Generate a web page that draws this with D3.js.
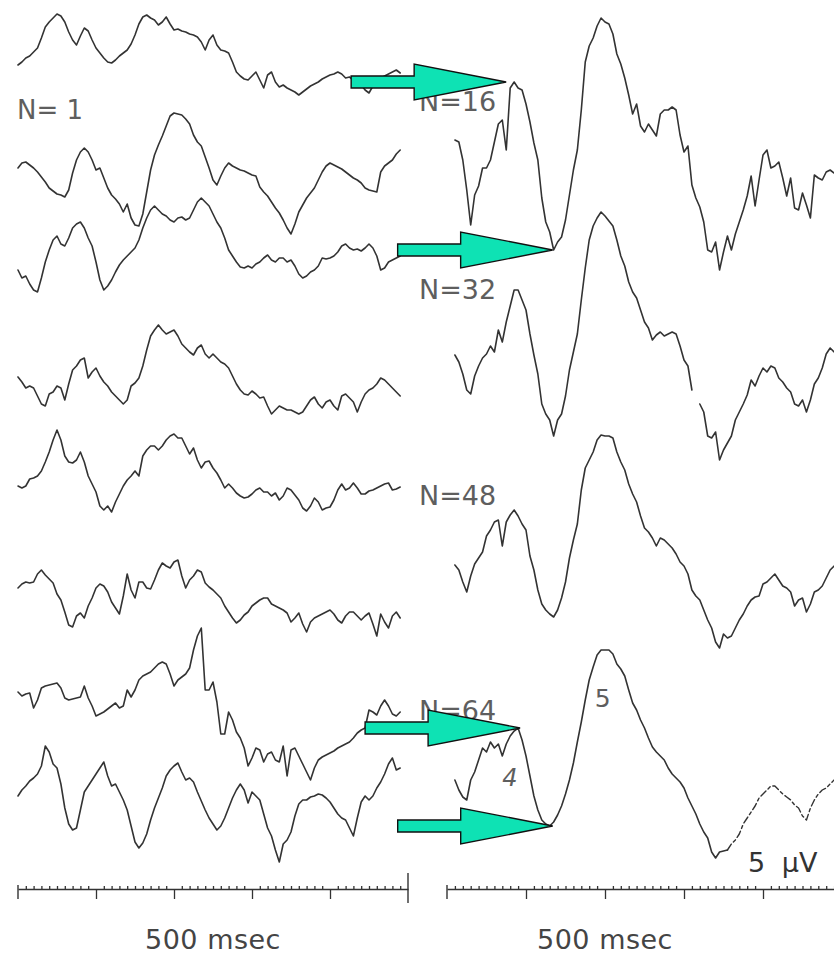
<!DOCTYPE html>
<html>
<head>
<meta charset="utf-8">
<script src="https://cdn.jsdelivr.net/npm/d3@7/dist/d3.min.js"></script>
<style>
  html, body { margin: 0; padding: 0; background: #fff; }
  svg { display: block; }
</style>
</head>
<body>
<script>
// ---- Single sweeps (µV), one sample every 5 ms starting at 0 ms ----
const sweep1 = [
  -0.5, -0.2, 0.2, 0.4, 0.8, 1.2, 2.2, 3.3, 3.8, 4.2,
  4.6, 4.4, 3.8, 2.8, 2.0, 1.5, 2.4, 3.2, 2.9, 2.0,
  1.2, 0.7, 0.2, -0.2, -0.3, 0.0, 0.4, 0.7, 1.0, 1.6,
  2.5, 3.6, 4.3, 4.5, 4.2, 4.0, 3.5, 3.8, 4.3, 3.6,
  3.0, 3.1, 2.9, 2.8, 2.6, 2.5, 2.3, 1.8, 1.0, 2.0,
  2.5, 1.5, 1.0, 0.9, 0.7, -0.2, -1.2, -1.6, -1.9, -2.0,
  -1.6, -1.2, -2.0, -2.8, -1.5, -1.2, -2.2, -2.7, -2.5, -2.8,
  -3.0, -3.2, -3.5, -3.2, -2.9, -2.6, -2.4, -2.2, -1.9, -1.7,
  -1.5, -1.4, -1.2, -1.4, -1.8, -1.7, -2.0, -2.2, -2.5, -3.0,
  -3.3, -2.6, -2.0, -1.8, -1.6, -1.4, -1.2, -1.0, -1.3
];
const sweep2 = [
  0.2, 0.7, 0.8, 0.5, 0.2, -0.2, -0.7, -1.2, -1.8, -2.1,
  -2.4, -2.5, -2.7, -2.0, -0.3, 1.0, 1.8, 2.2, 1.8, 1.0,
  0.0, 0.2, -0.8, -1.8, -2.5, -2.9, -3.4, -4.2, -3.4, -4.8,
  -5.5, -5.6, -4.4, -2.2, 0.0, 1.5, 2.5, 3.4, 4.4, 5.4,
  5.7, 5.6, 5.5, 5.1, 4.6, 3.5, 2.8, 2.4, 1.3, 0.2,
  -1.0, -1.5, -0.6, 0.2, 0.7, 0.4, 0.2, 0.0, -0.1, -0.3,
  -0.5, -0.6, -1.7, -2.2, -2.6, -3.2, -3.8, -4.3, -5.0, -5.8,
  -6.4, -5.4, -4.2, -3.5, -2.8, -2.3, -1.8, -1.0, -0.2, 0.4,
  0.7, 0.5, 0.3, 0.1, -0.2, -0.5, -0.8, -1.0, -1.3, -1.8,
  -2.0, -2.1, -2.2, -0.2, 0.4, 0.7, 1.0, 1.6, 2.0
];
const sweep3 = [
  -2.0, -2.8, -2.6, -3.4, -4.0, -4.2, -2.8, -1.2, 0.0, 1.0,
  1.4, 0.6, 0.4, 1.2, 2.2, 2.6, 2.8, 2.2, 1.2, 0.4,
  -1.2, -3.0, -4.0, -3.6, -3.0, -2.2, -1.5, -1.0, -0.6, -0.2,
  0.2, 1.0, 2.2, 3.2, 4.0, 4.4, 4.0, 3.6, 3.4, 3.0,
  2.8, 3.2, 3.3, 3.0, 3.2, 4.0, 4.8, 5.2, 4.8, 4.4,
  3.6, 2.8, 2.2, 1.2, 0.0, -0.6, -1.2, -1.7, -1.8, -1.6,
  -1.8, -1.4, -1.2, -0.8, -0.5, -1.0, -1.2, -0.8, -0.8, -1.2,
  -1.0, -1.6, -2.4, -2.8, -2.6, -2.2, -2.0, -1.6, -0.8, -0.9,
  -0.8, -0.6, -0.2, 0.4, 0.6, 0.2, 0.0, 0.1, -0.1, 0.2,
  0.6, 0.2, -0.6, -2.0, -1.8, -1.2, -1.0, -0.8, -0.6
];
const sweep4 = [
  0.3, -0.2, -0.8, -0.6, -0.8, -1.6, -2.4, -2.6, -1.4, -1.2,
  -0.6, -0.8, -2.0, -0.4, 1.0, 1.4, 2.0, 2.2, 0.2, 0.8,
  1.2, 0.4, -0.2, -0.6, -1.2, -1.6, -2.0, -2.4, -2.0, -0.6,
  -0.3, 0.2, 1.4, 3.0, 4.4, 5.0, 5.5, 5.0, 4.6, 4.8,
  5.0, 4.4, 3.6, 3.2, 2.8, 2.5, 3.2, 3.5, 2.6, 2.2,
  2.6, 2.2, 1.8, 1.6, 1.2, 0.4, -0.4, -1.0, -1.4, -1.5,
  -1.1, -1.4, -1.8, -1.7, -2.6, -3.4, -3.0, -2.6, -2.8, -3.0,
  -3.0, -3.2, -3.4, -3.2, -2.6, -2.0, -1.7, -2.4, -2.8, -2.2,
  -2.0, -2.6, -3.0, -1.6, -1.4, -1.8, -2.2, -3.2, -2.2, -1.4,
  -1.0, -0.8, -0.4, 0.2, 0.0, -0.4, -0.8, -1.2, -1.6
];
const sweep5 = [
  -0.6, -0.8, -0.6, 0.1, 0.2, 0.4, 0.9, 1.8, 2.8, 4.0,
  5.0, 4.0, 2.4, 1.8, 1.7, 2.0, 2.8, 1.8, 0.4, -0.4,
  -1.2, -2.6, -3.0, -2.6, -3.2, -2.2, -1.4, -0.6, 0.0, 0.4,
  0.9, 0.4, 2.4, 3.0, 3.4, 3.4, 3.0, 3.4, 4.0, 4.4,
  4.6, 4.2, 4.2, 3.4, 2.6, 3.2, 2.0, 1.2, 1.8, 1.9,
  1.2, 0.7, 0.0, -0.8, -0.4, -0.8, -1.3, -1.6, -1.8, -1.7,
  -1.4, -1.0, -0.8, -1.2, -1.2, -1.6, -1.3, -2.0, -1.6, -0.8,
  -1.0, -1.5, -2.0, -2.8, -3.1, -2.6, -1.8, -2.2, -3.0, -2.8,
  -2.7, -2.0, -1.0, -0.4, -1.0, -0.8, -0.3, -0.8, -1.4, -1.4,
  -1.1, -1.0, -0.8, -0.6, -0.4, -0.3, -1.0, -0.9, -0.7
];
const sweep6 = [
  1.2, 1.6, 1.8, 1.7, 1.8, 2.6, 3.0, 2.5, 2.1, 1.7,
  0.6, 0.0, -1.2, -2.5, -2.7, -1.6, -1.3, -1.8, -0.6, 0.2,
  1.2, 1.6, 1.4, 0.8, -0.2, -0.8, -1.4, 0.4, 2.6, 1.0,
  0.2, 1.8, 1.8, 1.2, 1.1, 2.0, 3.0, 3.7, 3.4, 3.2,
  3.8, 4.0, 2.4, 1.2, 2.0, 2.4, 3.0, 2.8, 1.7, 1.3,
  1.0, 0.6, 0.2, -0.6, -1.2, -1.8, -2.3, -2.0, -1.5, -1.2,
  -0.6, -0.3, 0.0, 0.2, 0.2, -0.4, -0.6, -0.8, -1.0, -1.3,
  -2.2, -1.8, -1.3, -2.4, -3.2, -2.2, -1.8, -1.6, -1.4, -1.2,
  -1.0, -1.4, -2.0, -2.3, -1.6, -1.2, -1.2, -1.6, -2.0, -1.6,
  -1.3, -2.4, -3.6, -1.4, -2.2, -2.8, -1.6, -1.2, -1.8
];
const sweep7 = [
  0.8, 0.4, 0.6, 0.7, -0.8, 0.0, 1.2, 1.4, 1.5, 1.6,
  1.7, 1.2, 0.2, 0.0, 0.1, 0.2, 0.3, 1.4, 0.2, -0.6,
  -1.6, -1.4, -1.2, -0.9, -0.6, -0.3, -0.8, -0.6, 1.0, 0.3,
  1.0, 2.0, 2.4, 2.6, 2.8, 3.2, 3.6, 3.8, 3.6, 2.6,
  1.4, 2.0, 2.3, 2.6, 3.2, 5.0, 6.4, 7.2, 1.0, 1.0,
  1.8, -0.2, -3.4, -3.4, -1.2, -2.0, -3.2, -3.8, -4.8, -6.6,
  -5.8, -4.8, -5.0, -6.2, -5.4, -5.2, -6.0, -6.2, -4.6, -7.6,
  -5.0, -4.8, -5.6, -6.4, -7.2, -8.0, -6.8, -6.0, -5.7, -5.5,
  -5.3, -5.1, -4.8, -4.6, -4.4, -4.2, -3.8, -3.3, -3.0, -2.8,
  -1.0, -1.2, -1.5, -0.6, 0.0, -0.6, -1.4, -1.6, -1.2
];
const sweep8 = [
  0.4, 1.0, 1.4, 1.9, 2.2, 2.6, 3.4, 5.4, 4.8, 3.6,
  3.2, 1.6, -0.8, -2.4, -3.0, -2.8, -1.0, 0.8, 1.4, 2.0,
  2.6, 3.2, 3.8, 2.4, 1.4, 1.6, 0.8, 0.0, -1.0, -2.6,
  -4.2, -4.8, -4.3, -3.4, -2.0, -0.8, 0.2, 1.2, 2.4, 3.0,
  3.4, 3.7, 2.8, 2.0, 2.2, 1.8, 0.8, -0.1, -1.0, -1.8,
  -2.4, -3.0, -2.6, -1.8, -0.8, 0.2, 1.0, 1.6, 1.0, -0.3,
  0.8, 0.4, 0.0, -1.4, -2.8, -3.6, -5.0, -6.2, -4.4, -4.0,
  -3.2, -1.6, -0.4, 0.0, 0.0, 0.3, 0.4, 0.6, 0.5, 0.2,
  -0.2, -0.8, -1.4, -1.8, -2.0, -2.8, -3.6, -1.8, -0.2, 0.4,
  0.0, 0.4, 1.2, 1.8, 2.6, 3.6, 4.2, 3.0, 3.2
];

// ---- Running averages (µV), one sample every 5 ms starting at 10 ms ----
const avg16 = [
  1.0, 0.8, -1.0, -4.0, -7.5, -4.5, -3.6, -1.8, -1.8, -1.0,
  0.8, 2.6, 3.0, 0.0, 6.2, 6.8, 6.2, 6.0, 4.6, 2.8,
  0.7, -1.0, -4.8, -7.2, -8.2, -10.0, -9.2, -8.7, -7.0, -4.5,
  -2.0, 0.0, 4.0, 8.8, 10.4, 11.2, 12.4, 13.2, 12.8, 12.6,
  11.6, 9.6, 8.6, 7.2, 5.5, 3.6, 4.6, 2.4, 1.8, 2.6,
  2.0, 1.4, 3.6, 4.0, 4.0, 4.3, 4.0, 1.5, -0.2, 0.4,
  -3.5, -4.8, -5.7, -7.2, -10.0, -10.2, -9.2, -12.0, -10.2, -8.6,
  -10.0, -8.4, -7.2, -6.0, -4.6, -2.6, -5.6, -3.0, -0.5, 0.0,
  -1.8, -1.6, -1.2, -2.8, -4.6, -2.8, -5.8, -6.0, -4.3, -5.5,
  -6.8, -2.5, -2.8, -3.0, -2.2, -2.0, -2.3
];
const avg32 = [
  -0.5, -1.2, -2.4, -4.0, -4.4, -2.6, -1.6, -0.8, -0.4, 0.4,
  -0.2, 2.0, 0.8, 2.8, 4.4, 6.0, 6.0, 5.0, 4.0, 1.6,
  -0.5, -2.4, -5.4, -6.4, -7.0, -8.6, -7.0, -6.4, -4.6, -2.0,
  -0.2, 1.6, 5.0, 8.2, 11.0, 12.4, 13.2, 13.8, 13.4, 12.9,
  12.4, 11.0, 9.4, 8.4, 6.8, 5.8, 5.2, 4.0, 2.8, 2.2,
  1.0, 1.5, 1.8, 1.4, 1.6, 1.8, 1.6, 0.4, -1.0, -1.6,
  -4.0, null, -5.4, -6.2, -8.6, -8.8, -8.2, -11.0, -10.0, -9.3,
  -8.6, -7.0, -6.2, -5.4, -4.5, -3.0, -3.6, -2.6, -1.8, -2.2,
  -1.6, -1.8, -2.8, -3.2, -3.8, -4.2, -5.4, -5.6, -5.0, -6.2,
  -5.0, -3.4, -2.8, -1.8, -0.4, 0.2, -0.2
];
const avg48 = [
  -0.5, -1.0, -2.2, -3.2, -1.6, -0.4, 0.2, 0.8, 2.4, 3.0,
  3.8, 4.0, 1.4, 3.8, 4.5, 5.0, 4.4, 3.6, 3.0, 0.4,
  -1.0, -3.0, -4.4, -5.0, -5.4, -5.7, -5.0, -3.8, -2.2, 0.2,
  2.0, 3.6, 7.0, 9.2, 10.0, 10.8, 12.0, 12.5, 12.4, 12.4,
  12.2, 10.8, 9.8, 9.0, 7.6, 6.6, 5.8, 4.4, 3.2, 2.8,
  2.2, 1.4, 2.2, 2.0, 1.6, 1.2, 0.6, -0.2, -0.6, -1.4,
  -3.0, -3.6, -4.0, -5.0, -6.0, -6.8, -8.2, -8.8, -7.4, -7.8,
  -7.6, -6.8, -6.0, -5.4, -4.6, -4.0, -3.7, -3.6, -2.4, -2.2,
  -1.8, -1.4, -2.0, -2.6, -2.8, -3.2, -4.6, -4.0, -3.8, -5.2,
  -4.4, -3.2, -3.0, -2.6, -1.8, -1.0, -0.6
];
const avg64 = [
  0.0, -1.0, -1.7, -2.0, 0.0, 0.8, 2.0, 3.2, 2.8, 3.8,
  3.2, 3.6, 2.4, 3.6, 4.4, 4.9, 5.2, 4.0, 2.4, 0.4,
  -1.6, -3.0, -4.0, -4.4, -4.6, -4.2, -3.5, -2.6, -1.4, 0.0,
  1.7, 3.8, 5.8, 8.0, 10.0, 11.3, 12.5, 13.0, 13.0, 13.0,
  12.6, 11.6, 11.1, 10.4, 9.0, 7.7, 7.0, 6.0, 5.2, 4.2,
  3.3, 2.8, 2.4, 2.0, 1.2, 0.6, 0.2, -0.2, -0.8, -1.8,
  -2.6, -3.4, -4.4, -5.2, -5.8, -7.2, -7.8, -7.2, -7.1, -7.0,
  -6.4, -6.0, -5.4, -4.4, -3.8, -3.2, -2.6, -1.8, -1.4, -1.0,
  -0.6, -0.6, -1.0, -1.4, -1.7, -2.0, -2.5, -2.8, -3.6, -4.0,
  -2.8, -2.0, -1.4, -1.0, -0.8, -0.4, 0.0
];

// ---- Labels, ticks and sampling ----
const sweeps = [sweep1, sweep2, sweep3, sweep4, sweep5, sweep6, sweep7, sweep8];
const averages = [avg16, avg32, avg48, avg64];
const averageCounts = [16, 32, 48, 64];
const singleSweepLabel = "N= 1";
const componentLabels = ["4", "5"];
const timeAxisLabel = "500 msec";
const calibrationLabel = "5 µV";
const majorTicksMs = [0, 100, 200, 300, 400, 500];
const minorTickStepMs = 10;
const sampleStepMs = 5;
const sweepStartMs = 0;
const averageStartMs = 10;
// The N=64 average is traced as a broken line after this time
const brokenFromMs = 355;
// Arrows mark the two peaks of interest on the N=16 and N=64 averages
const arrowMarks = [
  { avg: 0, ms: 85 },
  { avg: 0, ms: 135 },
  { avg: 3, ms: 90 },
  { avg: 3, ms: 130 }
];

// ---- Layout ----
const W = 834, H = 957;
const axisY = 889;
const pxPerMicrovolt = 10;
const sweepBaselines = [60, 170, 250, 380, 480, 600, 700, 800];
const averageBaselines = [150, 350, 560, 780];
const averageLabelY = [111, 299, 505, 720];
const arrowGaps = [8, 1, -2, -3];
const inkColor = "#333";
const labelColor = "#5e5e5e";
const arrowFill = "#0ee2b4";
const fontFamily = "'DejaVu Sans', 'Liberation Sans', sans-serif";

const svg = d3.select("body").append("svg")
  .attr("width", W).attr("height", H)
  .attr("viewBox", `0 0 ${W} ${H}`);

const xLeft = d3.scaleLinear().domain([0, 500]).range([18, 408]);
const xRight = d3.scaleLinear().domain([0, 500]).range([447, 842]);
const yFor = base => d3.scaleLinear().domain([0, 1]).range([base, base - pxPerMicrovolt]);

function tracePath(values, x, y, startMs, keep) {
  return d3.line()
    .defined((v, i) => v !== null && (!keep || keep(startMs + i * sampleStepMs)))
    .x((v, i) => x(startMs + i * sampleStepMs))
    .y(v => y(v))(values);
}

function strokeTrace(sel) {
  return sel
    .attr("fill", "none")
    .attr("stroke", inkColor)
    .attr("stroke-width", 1.6)
    .attr("stroke-linejoin", "round")
    .attr("stroke-linecap", "round");
}

// Single sweeps on the left
const left = svg.append("g").attr("class", "sweeps");
sweeps.forEach((vals, k) => {
  left.append("path")
    .attr("d", tracePath(vals, xLeft, yFor(sweepBaselines[k]), sweepStartMs))
    .call(strokeTrace);
});

// Averages on the right
const right = svg.append("g").attr("class", "averages");
averages.forEach((vals, k) => {
  const y = yFor(averageBaselines[k]);
  if (k === averages.length - 1) {
    right.append("path")
      .attr("d", tracePath(vals, xRight, y, averageStartMs, t => t <= brokenFromMs))
      .call(strokeTrace);
    right.append("path")
      .attr("d", tracePath(vals, xRight, y, averageStartMs, t => t >= brokenFromMs))
      .call(strokeTrace)
      .attr("stroke-width", 1.4)
      .attr("stroke-dasharray", "7 3 3 3");
  } else {
    right.append("path")
      .attr("d", tracePath(vals, xRight, y, averageStartMs))
      .call(strokeTrace);
  }
});

// Text labels
const textStyle = sel => sel
  .attr("font-family", fontFamily)
  .attr("fill", labelColor);

svg.append("text").call(textStyle)
  .attr("x", 17).attr("y", 119)
  .attr("font-size", 26)
  .text(singleSweepLabel);

averageCounts.forEach((n, k) => {
  svg.append("text").call(textStyle)
    .attr("x", 419).attr("y", averageLabelY[k])
    .attr("font-size", 27)
    .text("N=" + n);
});

// Component numbers on the N=64 average
const y64 = yFor(averageBaselines[3]);
svg.append("text").call(textStyle)
  .attr("x", xRight(70)).attr("y", y64(-0.6))
  .attr("font-size", 24).attr("font-style", "italic")
  .text(componentLabels[0]);
svg.append("text").call(textStyle)
  .attr("x", xRight(187)).attr("y", y64(7.3))
  .attr("font-size", 25)
  .text(componentLabels[1]);

// Calibration label
svg.append("text").call(textStyle)
  .attr("x", 748).attr("y", 872)
  .attr("font-size", 27)
  .attr("fill", "#333")
  .attr("word-spacing", 8)
  .text(calibrationLabel);

// Time axes
function drawTimeAxis(x, endBar, labelMs) {
  const g = svg.append("g").attr("transform", `translate(0,${axisY})`);
  const inner = majorTicksMs.filter(t => t > 0 && t < 500);
  g.call(d3.axisBottom(x).tickValues(inner).tickSize(10).tickSizeOuter(0).tickFormat(""));
  g.append("g").call(
    d3.axisTop(x)
      .tickValues(d3.range(minorTickStepMs, 500, minorTickStepMs).filter(t => t % 100 !== 0))
      .tickSize(3).tickFormat("")
  ).select(".domain").remove();
  g.selectAll("path, line").attr("stroke", "#333").attr("stroke-width", 1.3);
  // start tick
  g.append("line")
    .attr("x1", x(majorTicksMs[0])).attr("x2", x(majorTicksMs[0]))
    .attr("y1", -4).attr("y2", 10)
    .attr("stroke", "#333").attr("stroke-width", 1.4);
  if (endBar) {
    g.append("line")
      .attr("x1", x(majorTicksMs[majorTicksMs.length - 1]))
      .attr("x2", x(majorTicksMs[majorTicksMs.length - 1]))
      .attr("y1", -16).attr("y2", 14)
      .attr("stroke", "#333").attr("stroke-width", 1.4);
  }
  svg.append("text")
    .attr("x", x(labelMs)).attr("y", 949)
    .attr("text-anchor", "middle")
    .attr("font-family", fontFamily)
    .attr("font-size", 27)
    .attr("letter-spacing", 0.5)
    .attr("fill", "#444")
    .text(timeAxisLabel);
}
drawTimeAxis(xLeft, true, 250);
drawTimeAxis(xRight, false, 200);

// Arrows pointing at the marked peaks
const headLen = 92, shaftLen = 63, headHalf = 18, shaftHalf = 6;
arrowMarks.forEach((m, k) => {
  const vals = averages[m.avg];
  const idx = Math.round((m.ms - averageStartMs) / sampleStepMs);
  const tx = xRight(m.ms) - arrowGaps[k];
  const ty = yFor(averageBaselines[m.avg])(vals[idx]);
  const pts = [
    [tx - headLen - shaftLen, ty - shaftHalf],
    [tx - headLen, ty - shaftHalf],
    [tx - headLen, ty - headHalf],
    [tx, ty],
    [tx - headLen, ty + headHalf],
    [tx - headLen, ty + shaftHalf],
    [tx - headLen - shaftLen, ty + shaftHalf]
  ];
  svg.append("path")
    .attr("d", d3.line()(pts) + "Z")
    .attr("fill", arrowFill)
    .attr("stroke", "#111")
    .attr("stroke-width", 1.4)
    .attr("stroke-linejoin", "miter");
});
</script>
</body>
</html>
